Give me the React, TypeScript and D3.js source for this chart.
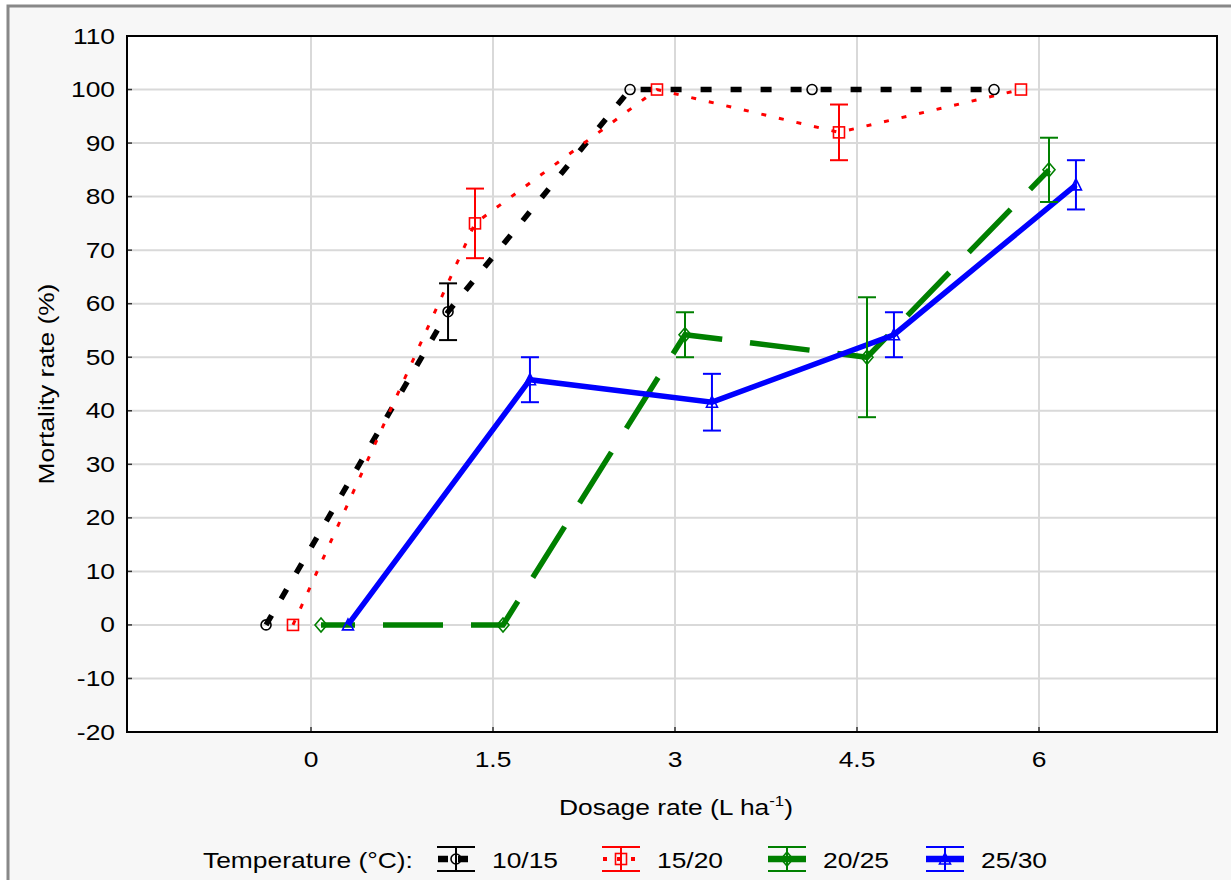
import React from "react";
import * as d3 from "d3";

// Dosage categories (L ha-1) and mortality means / standard errors per temperature regime
const categories = ["0", "1.5", "3", "4.5", "6"];
const yTicks = [-20, -10, 0, 10, 20, 30, 40, 50, 60, 70, 80, 90, 100, 110];

const names = ["10/15", "15/20", "20/25", "25/30"];
const mean1015 = [0, 58.5, 100, 100, 100];
const err1015 = [0, 5.3, 0, 0, 0];
const mean1520 = [0, 75, 100, 92, 100];
const err1520 = [0, 6.5, 0, 5.2, 0];
const mean2025 = [0, 0, 54.2, 50, 85];
const err2025 = [0, 0, 4.2, 11.2, 6];
const mean2530 = [0, 45.8, 41.6, 54.2, 82.2];
const err2530 = [0, 4.2, 5.3, 4.2, 4.6];

const W = 1231;
const H = 880;
const plot = { left: 127, right: 1217, top: 36, bottom: 732 };
const FONT = "'Liberation Sans', Arial, sans-serif";
const FS = 22;
const SX = 1.2; // horizontal stretch of the lettering

type Style = {
  color: string;
  width: number;
  dash: string | undefined;
  dashOffset: number;
  marker: "circle" | "square" | "diamond" | "triangle";
  offset: number;
};

const styles: Style[] = [
  { color: "#000000", width: 5.5, dash: "11 19", dashOffset: 0, marker: "circle", offset: -0.247 },
  { color: "#ff0000", width: 3, dash: "5 13", dashOffset: 0, marker: "square", offset: -0.099 },
  { color: "#008000", width: 5.5, dash: "60 28", dashOffset: 26, marker: "diamond", offset: 0.055 },
  { color: "#0000ff", width: 5.5, dash: undefined, dashOffset: 0, marker: "triangle", offset: 0.203 },
];

const means = [mean1015, mean1520, mean2025, mean2530];
const errs = [err1015, err1520, err2025, err2530];

const x = d3.scaleLinear().domain([-1, 5]).range([129, 1221]);
const y = d3.scaleLinear().domain([-20, 110]).range([plot.bottom, plot.top]);

function Marker({ kind, cx, cy, color }: { kind: Style["marker"]; cx: number; cy: number; color: string }) {
  const common = { fill: "none", stroke: color, strokeWidth: 1.6 };
  if (kind === "circle") return <circle cx={cx} cy={cy} r={5} {...common} />;
  if (kind === "square") return <rect x={cx - 5.5} y={cy - 5.5} width={11} height={11} {...common} />;
  if (kind === "diamond")
    return <path d={`M${cx},${cy - 7}L${cx + 6},${cy}L${cx},${cy + 7}L${cx - 6},${cy}Z`} {...common} />;
  return <path d={`M${cx},${cy - 6}L${cx + 5.5},${cy + 5}L${cx - 5.5},${cy + 5}Z`} {...common} />;
}

function Txt({
  x: tx,
  y: ty,
  anchor = "start",
  children,
  rotate = 0,
}: {
  x: number;
  y: number;
  anchor?: "start" | "middle" | "end";
  children: React.ReactNode;
  rotate?: number;
}) {
  return (
    <text
      transform={`translate(${tx},${ty}) rotate(${rotate}) scale(${SX},1)`}
      textAnchor={anchor}
      fontFamily={FONT}
      fontSize={FS}
      fill="#000"
    >
      {children}
    </text>
  );
}

export default function App() {
  const line = d3
    .line<[number, number]>()
    .x((d) => d[0])
    .y((d) => d[1]);

  const legendX = [437, 602, 768, 926];
  const legendY = 859;

  return (
    <svg
      width={W}
      height={H}
      style={{ position: "absolute", left: 0, top: 0, background: "#fff" }}
    >
      {/* outer panel */}
      <rect x={8} y={6} width={W + 10} height={H + 10} fill="#f7f7f7" stroke="#888" strokeWidth={3} />

      {/* plot area */}
      <rect
        x={plot.left}
        y={plot.top}
        width={plot.right - plot.left}
        height={plot.bottom - plot.top}
        fill="#fff"
      />

      {/* grid */}
      {yTicks.map((t) => (
        <line key={`gy${t}`} x1={plot.left} x2={plot.right} y1={y(t)} y2={y(t)} stroke="#d9d9d9" strokeWidth={2} />
      ))}
      {categories.map((c, i) => (
        <line key={`gx${c}`} x1={x(i)} x2={x(i)} y1={plot.top} y2={plot.bottom} stroke="#d9d9d9" strokeWidth={2} />
      ))}

      {/* inward ticks */}
      {yTicks.map((t) => (
        <line key={`ty${t}`} x1={plot.left} x2={plot.left + 5} y1={y(t)} y2={y(t)} stroke="#333" strokeWidth={1.5} />
      ))}
      {categories.map((c, i) => (
        <line key={`tx${c}`} x1={x(i)} x2={x(i)} y1={plot.bottom} y2={plot.bottom - 5} stroke="#333" strokeWidth={1.5} />
      ))}

      {/* series lines */}
      {styles.map((s, si) => {
        const pts: [number, number][] = means[si].map((v, i) => [x(i + s.offset), y(v)]);
        return (
          <path
            key={`l${si}`}
            d={line(pts) || ""}
            fill="none"
            stroke={s.color}
            strokeWidth={s.width}
            strokeDasharray={s.dash}
            strokeDashoffset={s.dashOffset}
            strokeLinejoin="miter"
          />
        );
      })}

      {/* error bars and markers */}
      {styles.map((s, si) => (
        <g key={`m${si}`}>
          {means[si].map((v, i) => {
            const cx = x(i + s.offset);
            const e = errs[si][i];
            return (
              <g key={i}>
                {e > 0 && (
                  <g stroke={s.color} strokeWidth={2}>
                    <line x1={cx} x2={cx} y1={y(v + e)} y2={y(v - e)} />
                    <line x1={cx - 9} x2={cx + 9} y1={y(v + e)} y2={y(v + e)} />
                    <line x1={cx - 9} x2={cx + 9} y1={y(v - e)} y2={y(v - e)} />
                  </g>
                )}
                <Marker kind={s.marker} cx={cx} cy={y(v)} color={s.color} />
              </g>
            );
          })}
        </g>
      ))}

      {/* frame */}
      <rect
        x={plot.left}
        y={plot.top}
        width={plot.right - plot.left}
        height={plot.bottom - plot.top}
        fill="none"
        stroke="#000"
        strokeWidth={2}
      />

      {/* y tick labels */}
      {yTicks.map((t) => (
        <Txt key={`yl${t}`} x={115} y={y(t) + 7.5} anchor="end">
          {String(t)}
        </Txt>
      ))}
      {/* x tick labels */}
      {categories.map((c, i) => (
        <Txt key={`xl${c}`} x={x(i)} y={767} anchor="middle">
          {c}
        </Txt>
      ))}

      {/* axis titles */}
      <Txt x={54} y={384} anchor="middle" rotate={-90}>
        Mortality rate (%)
      </Txt>
      <Txt x={676} y={815} anchor="middle">
        Dosage rate (L ha
        <tspan fontSize={14} dy={-9}>
          -1
        </tspan>
        <tspan dy={9}>)</tspan>
      </Txt>

      {/* legend */}
      <Txt x={203} y={868}>
        Temperature (°C):
      </Txt>
      {styles.map((s, si) => {
        const lx = legendX[si];
        const cx = lx + 19;
        return (
          <g key={`lg${si}`}>
            <g stroke={s.color} strokeWidth={2}>
              <line x1={lx} x2={lx + 38} y1={legendY - 12} y2={legendY - 12} />
              <line x1={lx} x2={lx + 38} y1={legendY + 12} y2={legendY + 12} />
              <line x1={cx} x2={cx} y1={legendY - 12} y2={legendY + 12} />
            </g>
            <line
              x1={lx}
              x2={lx + 38}
              y1={legendY}
              y2={legendY}
              stroke={s.color}
              strokeWidth={s.width + 1}
              strokeDasharray={si === 0 ? "10 10" : si === 1 ? "4 10" : undefined}
              strokeDashoffset={si === 0 ? -1 : si === 1 ? -1 : 0}
            />
            <Marker kind={s.marker} cx={cx} cy={legendY} color={s.color} />
            <Txt x={lx + 55} y={868}>
              {names[si]}
            </Txt>
          </g>
        );
      })}
    </svg>
  );
}
